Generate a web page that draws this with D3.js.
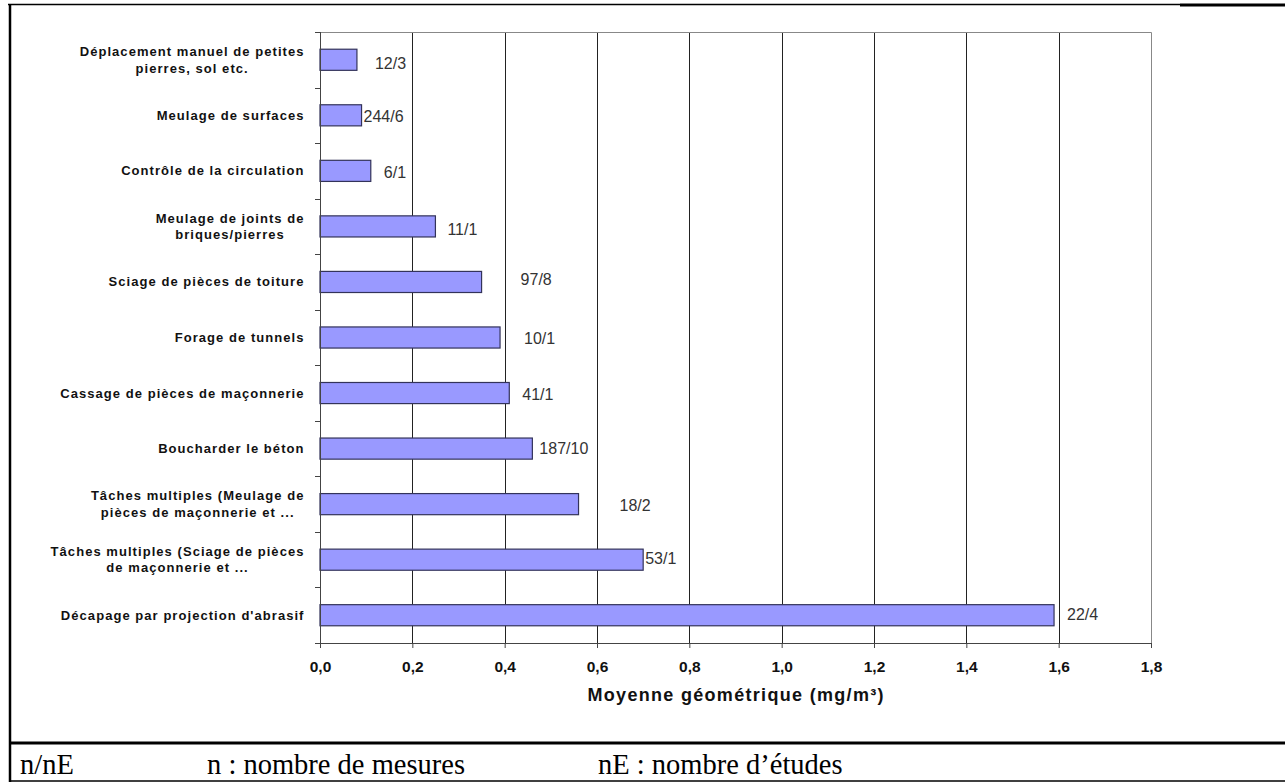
<!DOCTYPE html>
<html>
<head>
<meta charset="utf-8">
<script src="https://cdn.jsdelivr.net/npm/d3@7"></script>
<style>
  body { margin: 0; background: #fff; }
  svg { display: block; }
</style>
</head>
<body>
<div id="body"></div>
<script>
// data (top to bottom)
let categories = [
  ["Déplacement manuel de petites", "pierres, sol etc."],
  ["Meulage de surfaces"],
  ["Contrôle de la circulation"],
  ["Meulage de joints de", "briques/pierres"],
  ["Sciage de pièces  de toiture"],
  ["Forage de tunnels"],
  ["Cassage de pièces de maçonnerie"],
  ["Boucharder le béton"],
  ["Tâches multiples  (Meulage de", "pièces de maçonnerie et ..."],
  ["Tâches multiples  (Sciage de pièces", "de maçonnerie et ..."],
  ["Décapage par projection d'abrasif"]
]
let values = [0.08, 0.09, 0.11, 0.25, 0.35, 0.39, 0.41, 0.46, 0.56, 0.70, 1.59]
let counts = ["12/3", "244/6", "6/1", "11/1", "97/8", "10/1", "41/1", "187/10", "18/2", "53/1", "22/4"]
let xTicks = [0, 0.2, 0.4, 0.6, 0.8, 1.0, 1.2, 1.4, 1.6, 1.8]
let footer = ["n/nE", "n : nombre de mesures", "nE : nombre d\u2019études"]

// label nudges (px from bar end), the labels were moved by hand in the original
let labelDx = [18, 2, 13, 12, 39, 24, 13, 7, 41, 2, 13]
let labelDy = [4, 1, 2, 3, -2, 1, 1, 0, 1, -1, -1]

let width = 1285, height = 782
let plot = {left: 320, right: 1151, top: 32, bottom: 643}
let sans = "'Liberation Sans', Arial, sans-serif"

let svg = d3.select("#body").append("svg")
  .attr("width", width)
  .attr("height", height)

let xscale = d3.scaleLinear()
  .domain([0, 1.8])
  .range([plot.left, plot.right])

let yscale = d3.scaleBand()
  .domain(d3.range(categories.length))
  .range([plot.top, plot.bottom])
  .paddingInner(0.62)
  .paddingOuter(0.31)

let step = yscale.step()

// page frame
svg.append("line").attr("x1", 8).attr("x2", 1180).attr("y1", 4.5).attr("y2", 4.5)
  .attr("stroke", "#000").attr("stroke-width", 1.5)
svg.append("line").attr("x1", 1180).attr("x2", width).attr("y1", 5).attr("y2", 5)
  .attr("stroke", "#000").attr("stroke-width", 3)
svg.append("line").attr("x1", 10).attr("x2", 10).attr("y1", 4).attr("y2", height)
  .attr("stroke", "#000").attr("stroke-width", 2.5)
svg.append("line").attr("x1", 9).attr("x2", width).attr("y1", 743).attr("y2", 743)
  .attr("stroke", "#000").attr("stroke-width", 3)
svg.append("line").attr("x1", 9).attr("x2", width).attr("y1", 781).attr("y2", 781)
  .attr("stroke", "#000").attr("stroke-width", 1.5)

// gridlines
svg.append("g").selectAll("line")
  .data(xTicks.filter(d => d > 0 && d < 1.8))
  .enter()
  .append("line")
  .attr("x1", d => Math.round(xscale(d)) + 0.5)
  .attr("x2", d => Math.round(xscale(d)) + 0.5)
  .attr("y1", plot.top)
  .attr("y2", plot.bottom)
  .attr("stroke", "#222")

// plot border (top + right)
svg.append("path")
  .attr("d", "M" + plot.left + "," + (plot.top + 0.5) + "H" + (plot.right + 0.5) + "V" + plot.bottom)
  .attr("fill", "none")
  .attr("stroke", "#888")

// bars
svg.append("g").selectAll("rect")
  .data(values)
  .enter()
  .append("rect")
  .attr("x", xscale(0))
  .attr("y", (d, i) => yscale(i))
  .attr("width", d => xscale(d) - xscale(0))
  .attr("height", yscale.bandwidth())
  .attr("fill", "#9999ff")
  .attr("stroke", "#33335a")
  .attr("stroke-width", 1.2)

// value labels n/nE
svg.append("g").selectAll("text")
  .data(values)
  .enter()
  .append("text")
  .attr("x", (d, i) => xscale(d) + labelDx[i])
  .attr("y", (d, i) => yscale(i) + yscale.bandwidth() / 2 + labelDy[i])
  .attr("dominant-baseline", "central")
  .style("font-family", sans)
  .style("font-size", "16px")
  .style("fill", "#333")
  .text((d, i) => counts[i])

// y axis: line + ticks at category boundaries
let yAxis = svg.append("g").attr("stroke", "#444")
yAxis.append("line")
  .attr("x1", plot.left + 0.5).attr("x2", plot.left + 0.5)
  .attr("y1", plot.top).attr("y2", plot.bottom)
yAxis.selectAll(".tick")
  .data(d3.range(categories.length + 1))
  .enter()
  .append("line")
  .attr("x1", plot.left - 5).attr("x2", plot.left)
  .attr("y1", i => Math.round(plot.top + i * step) + 0.5)
  .attr("y2", i => Math.round(plot.top + i * step) + 0.5)

// category labels, wrapped lines centred in a right aligned block
let labelRight = 304
let lineH = 16.5
categories.forEach((lines, i) => {
  let g = svg.append("g")
  let cy = plot.top + (i + 0.5) * step
  let texts = lines.map((s, k) => g.append("text")
    .attr("y", cy + (k - (lines.length - 1) / 2) * lineH)
    .attr("dominant-baseline", "central")
    .attr("text-anchor", "middle")
    .style("font-family", sans)
    .style("font-weight", "bold")
    .style("font-size", "13px")
    .style("letter-spacing", "1.05px")
    .style("fill", "#111")
    .text(s))
  let maxW = d3.max(texts, t => t.node().getComputedTextLength())
  texts.forEach(t => t.attr("x", labelRight - maxW / 2 + 0.5))
})

// x axis
let xAxis = svg.append("g")
  .attr("transform", "translate(0," + plot.bottom + ")")
  .call(d3.axisBottom(xscale)
    .tickValues(xTicks)
    .tickSize(5)
    .tickFormat(d => d3.format(".1f")(d).replace(".", ",")))
xAxis.select(".domain").attr("stroke", "#444")
xAxis.selectAll(".tick line").attr("stroke", "#444")
xAxis.selectAll(".tick text")
  .attr("y", 18)
  .style("font-family", sans)
  .style("font-weight", "bold")
  .style("font-size", "15.5px")
  .style("fill", "#111")

// x axis title
svg.append("text")
  .attr("x", (plot.left + plot.right) / 2)
  .attr("y", 695)
  .attr("text-anchor", "middle")
  .attr("dominant-baseline", "central")
  .attr("textLength", 296)
  .attr("lengthAdjust", "spacing")
  .style("font-family", sans)
  .style("font-weight", "bold")
  .style("font-size", "18px")
  .style("fill", "#111")
  .text("Moyenne géométrique (mg/m³)")

// footer row
let footerX = [20, 207, 598]
svg.append("g").selectAll("text")
  .data(footer)
  .enter()
  .append("text")
  .attr("x", (d, i) => footerX[i])
  .attr("y", 774)
  .style("font-family", "'Liberation Serif', 'Times New Roman', serif")
  .style("font-size", "28.5px")
  .style("fill", "#000")
  .text(d => d)
</script>
</body>
</html>
